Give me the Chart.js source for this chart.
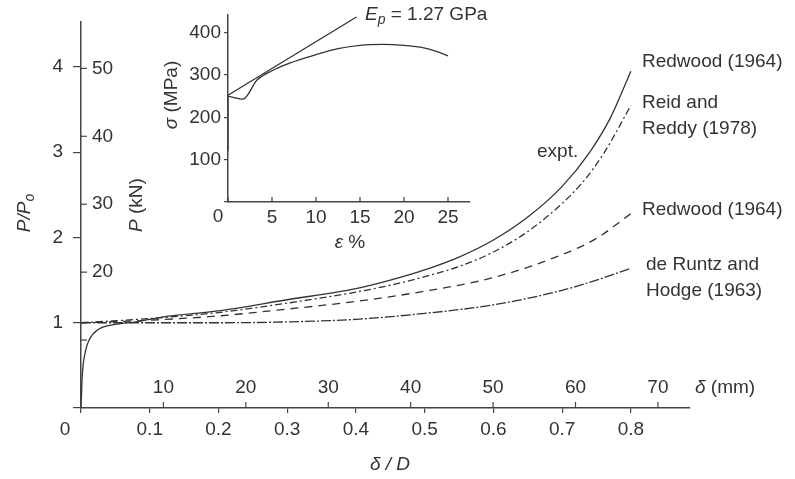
<!DOCTYPE html>
<html lang="en">
<head>
    <meta charset="UTF-8">
    <title>Tube crushing load</title>
    <script src="https://cdn.jsdelivr.net/npm/chart.js@4.4.0/dist/chart.umd.min.js"></script>
    <style>
        body { margin: 0; background: #fff; }
        #wrap { position: relative; width: 795px; height: 479px; }
        #mainArea { position: absolute; left: 0; top: 0; }
        #insetArea { position: absolute; left: 150px; top: 0; pointer-events: none; }
    </style>
</head>
<body>
    <div id="wrap">
        <canvas id="mainArea" width="795" height="479"></canvas>
        <canvas id="insetArea" width="360" height="260"></canvas>
    </div>

    <script>
        // main plot: P/Po against delta/D
        var xTicks = [0, 0.1, 0.2, 0.3, 0.4, 0.5, 0.6, 0.7, 0.8];
        var xTickLabels = ['', '0.1', '0.2', '0.3', '0.4', '0.5', '0.6', '0.7', '0.8'];
        var yTicks = [0, 1, 2, 3, 4];
        var yTickLabels = ['', '1', '2', '3', '4'];
        var kNTicks = [10, 20, 30, 40, 50];
        var kNTickLabels = ['', '20', '30', '40', '50'];
        var mmTicks = [10, 20, 30, 40, 50, 60, 70];
        var P0_KN = 12.55;   // kN for P/Po = 1
        var D_MM = 83.4;     // tube diameter, mm

        var exptX = [0, 0.002, 0.006, 0.012, 0.025, 0.05, 0.08, 0.12, 0.2, 0.3, 0.4, 0.45, 0.5, 0.55, 0.6, 0.65, 0.7, 0.74, 0.77, 0.8];
        var exptY = [0, 0.4, 0.65, 0.8, 0.92, 0.98, 1.01, 1.07, 1.14, 1.27, 1.40, 1.50, 1.62, 1.77, 1.97, 2.24, 2.6, 3.0, 3.4, 3.95];
        var reidX = [0, 0.1, 0.2, 0.3, 0.4, 0.45, 0.5, 0.55, 0.6, 0.65, 0.7, 0.73, 0.76, 0.8];
        var reidY = [1.0, 1.05, 1.12, 1.23, 1.36, 1.44, 1.54, 1.66, 1.83, 2.07, 2.4, 2.65, 2.98, 3.55];
        var redwoodX = [0, 0.1, 0.2, 0.3, 0.4, 0.5, 0.6, 0.7, 0.75, 0.8];
        var redwoodY = [1.0, 1.03, 1.08, 1.16, 1.25, 1.37, 1.53, 1.80, 1.99, 2.28];
        var runtzX = [0, 0.1, 0.2, 0.3, 0.4, 0.5, 0.6, 0.7, 0.75, 0.8];
        var runtzY = [1.0, 1.0, 1.0, 1.01, 1.04, 1.11, 1.21, 1.38, 1.5, 1.64];

        // inset: stress-strain
        var insetXTicks = [0, 5, 10, 15, 20, 25];
        var insetXTickLabels = ['', '5', '10', '15', '20', '25'];
        var insetYTicks = [0, 100, 200, 300, 400];
        var insetYTickLabels = ['', '100', '200', '300', '400'];
        var elasticX = [0, 0];
        var elasticY = [120, 250];
        var strainX = [0, 1.7, 3.3, 5, 7, 10, 12.5, 15, 17.5, 20, 22, 23.5, 25];
        var stressY = [250, 243, 288, 310, 328, 348, 362, 370, 372, 370, 365, 357, 345];
        var tangentX = [0, 14.6];
        var tangentY = [252, 437];

        var FONT = '"Liberation Sans", Arial, sans-serif';
        var FS = 19;
        var INK = '#333';
        Chart.defaults.font.family = FONT;
        Chart.defaults.font.size = FS;
        Chart.defaults.color = INK;

        function pts(xs, ys) {
            return xs.map(function (x, i) { return {x: x, y: ys[i]}; });
        }

        function line(xs, ys, dash) {
            return {
                data: pts(xs, ys),
                borderColor: INK,
                borderWidth: 1.3,
                borderDash: dash,
                pointRadius: 0,
                fill: false,
                cubicInterpolationMode: 'monotone'
            };
        }

        // runs: [text, italic, subscript]
        function drawRich(ctx, runs, x, y, align) {
            var fontOf = function (r) {
                return (r[1] ? 'italic ' : '') + (r[2] ? 14 : FS) + 'px ' + FONT;
            };
            var widths = runs.map(function (r) { ctx.font = fontOf(r); return ctx.measureText(r[0]).width; });
            var total = widths.reduce(function (a, b) { return a + b; }, 0);
            var cx = align === 'center' ? x - total / 2 : (align === 'right' ? x - total : x);
            ctx.textAlign = 'left';
            ctx.textBaseline = 'middle';
            ctx.fillStyle = INK;
            runs.forEach(function (r, i) {
                ctx.font = fontOf(r);
                ctx.fillText(r[0], cx, y + (r[2] ? 5 : 0));
                cx += widths[i];
            });
        }

        function drawRotated(ctx, runs, x, y) {
            ctx.save();
            ctx.translate(x, y);
            ctx.rotate(-Math.PI / 2);
            drawRich(ctx, runs, 0, 0, 'center');
            ctx.restore();
        }

        function axisStyle(tickLength) {
            return {
                grid: {drawOnChartArea: false, drawTicks: tickLength > 0, tickLength: tickLength, color: '#444', lineWidth: 1.2},
                border: {color: '#444', width: 1.5}
            };
        }

        var mainExtras = {
            id: 'mainExtras',
            afterDraw: function (chart) {
                var ctx = chart.ctx;
                var xs = chart.scales.x, ys = chart.scales.y;
                var ax = xs.left, ay = ys.bottom;
                ctx.save();
                ctx.strokeStyle = '#444';
                ctx.lineWidth = 1.2;
                // P (kN) ticks on the right of the axis
                kNTicks.forEach(function (v, i) {
                    var py = ys.getPixelForValue(v / P0_KN);
                    ctx.beginPath(); ctx.moveTo(ax, py); ctx.lineTo(ax + 6, py); ctx.stroke();
                    drawRich(ctx, [[kNTickLabels[i]]], ax + 11, py, 'left');
                });
                // delta (mm) ticks above the axis
                mmTicks.forEach(function (v) {
                    var px = xs.getPixelForValue(v / D_MM);
                    ctx.beginPath(); ctx.moveTo(px, ay); ctx.lineTo(px, ay - 6); ctx.stroke();
                    drawRich(ctx, [[String(v)]], px, ay - 20, 'center');
                });
                drawRich(ctx, [['δ', true], [' (mm)']], 695, ay - 20, 'left');
                drawRich(ctx, [['0']], 65, 430, 'center');

                drawRotated(ctx, [['P/P', true], ['o', true, true]], 25, 213);
                drawRotated(ctx, [['P', true], [' (kN)']], 137, 205);
                drawRich(ctx, [['δ / D', true]], 390, 465, 'center');

                drawRich(ctx, [['Redwood (1964)']], 642, 62, 'left');
                drawRich(ctx, [['Reid and']], 642, 103, 'left');
                drawRich(ctx, [['Reddy (1978)']], 642, 129, 'left');
                drawRich(ctx, [['expt.']], 537, 152, 'left');
                drawRich(ctx, [['Redwood (1964)']], 642, 210, 'left');
                drawRich(ctx, [['de Runtz and']], 646, 265, 'left');
                drawRich(ctx, [['Hodge (1963)']], 646, 291, 'left');
                ctx.restore();
            }
        };

        var xOpts = Object.assign(axisStyle(5), {
            type: 'linear', min: 0, max: 0.886,
            afterBuildTicks: function (s) { s.ticks = xTicks.map(function (v) { return {value: v}; }); },
            afterFit: function (s) { s.height = 71; },
            ticks: {callback: function (v, i) { return xTickLabels[i]; }, padding: 5, maxRotation: 0, autoSkip: false}
        });
        var yOpts = Object.assign(axisStyle(8), {
            type: 'linear', min: 0, max: 4.535,
            afterBuildTicks: function (s) { s.ticks = yTicks.map(function (v) { return {value: v}; }); },
            afterFit: function (s) { s.width = 81; },
            ticks: {callback: function (v, i) { return yTickLabels[i]; }, padding: 10, autoSkip: false}
        });

        var mainChart = new Chart(document.getElementById('mainArea'), {
            type: 'line',
            data: {
                datasets: [
                    line(exptX, exptY, []),
                    line(reidX, reidY, [7, 3, 2, 3]),
                    line(redwoodX, redwoodY, [8, 6]),
                    line(runtzX, runtzY, [10, 2, 2, 2])
                ]
            },
            options: {
                responsive: false,
                animation: false,
                layout: {padding: {left: 0, top: 18, right: 105, bottom: 0}},
                plugins: {legend: {display: false}, tooltip: {enabled: false}},
                scales: {x: xOpts, y: yOpts}
            },
            plugins: [mainExtras]
        });

        var insetExtras = {
            id: 'insetExtras',
            afterDraw: function (chart) {
                var ctx = chart.ctx;
                var xs = chart.scales.x, ys = chart.scales.y;
                ctx.save();
                ctx.strokeStyle = '#444';
                ctx.lineWidth = 1.2;
                insetXTicks.forEach(function (v) {
                    var px = xs.getPixelForValue(v);
                    ctx.beginPath(); ctx.moveTo(px, ys.bottom); ctx.lineTo(px, ys.bottom - 5); ctx.stroke();
                });
                drawRich(ctx, [['0']], 68, 217, 'center');
                drawRich(ctx, [['E', true], ['p', true, true], [' = 1.27 GPa']], 215, 15, 'left');
                drawRotated(ctx, [['σ', true], [' (MPa)']], 22, 95);
                drawRich(ctx, [['ε', true], [' %']], 200, 243, 'center');
                ctx.restore();
            }
        };

        var ixOpts = Object.assign(axisStyle(0), {
            type: 'linear', min: 0, max: 27.5,
            afterBuildTicks: function (s) { s.ticks = insetXTicks.map(function (v) { return {value: v}; }); },
            afterFit: function (s) { s.height = 58; },
            ticks: {callback: function (v, i) { return insetXTickLabels[i]; }, padding: 4, maxRotation: 0, autoSkip: false}
        });
        var iyOpts = Object.assign(axisStyle(4), {
            type: 'linear', min: 0, max: 443,
            afterBuildTicks: function (s) { s.ticks = insetYTicks.map(function (v) { return {value: v}; }); },
            afterFit: function (s) { s.width = 78; },
            ticks: {callback: function (v, i) { return insetYTickLabels[i]; }, padding: 3, autoSkip: false}
        });

        var insetChart = new Chart(document.getElementById('insetArea'), {
            type: 'line',
            data: {
                datasets: [
                    line(elasticX, elasticY, []),
                    line(strainX, stressY, []),
                    line(tangentX, tangentY, [])
                ]
            },
            options: {
                responsive: false,
                animation: false,
                layout: {padding: {left: 0, top: 10, right: 40, bottom: 0}},
                plugins: {legend: {display: false}, tooltip: {enabled: false}},
                scales: {x: ixOpts, y: iyOpts}
            },
            plugins: [insetExtras]
        });
    </script>
</body>
</html>
